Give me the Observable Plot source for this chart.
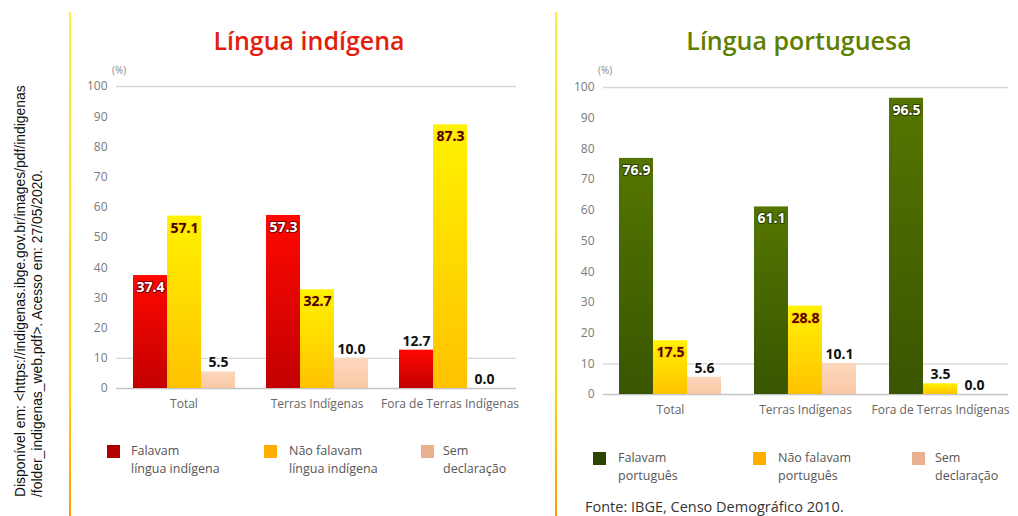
<!DOCTYPE html>
<html><head><meta charset="utf-8">
<script src="https://cdn.jsdelivr.net/npm/d3@7"></script>
<script src="https://cdn.jsdelivr.net/npm/@observablehq/plot@0.6"></script>
<style>
body{margin:0;background:#fff;}
#wrap{position:relative;width:1018px;height:516px;overflow:hidden;background:#fff;font-family:"Open Sans",sans-serif;}
.abs{position:absolute;white-space:nowrap;}
</style></head><body><div id="wrap"></div>
<script>
// ---------- data ----------
const categories = ["Total", "Terras Indígenas", "Fora de Terras Indígenas"];
const seriesIndigena = ["Falavam língua indígena", "Não falavam língua indígena", "Sem declaração"];
const seriesPortugues = ["Falavam português", "Não falavam português", "Sem declaração"];
const falavamIndigena = [37.4, 57.3, 12.7];
const naoFalavamIndigena = [57.1, 32.7, 87.3];
const semDeclIndigena = [5.5, 10.0, 0.0];
const falavamPortugues = [76.9, 61.1, 96.5];
const naoFalavamPortugues = [17.5, 28.8, 3.5];
const semDeclPortugues = [5.6, 10.1, 0.0];
const yTicks = [0, 10, 20, 30, 40, 50, 60, 70, 80, 90, 100];
const gridValues = [10, 100];
const legendIndigena = [["Falavam", "língua indígena"], ["Não falavam", "língua indígena"], ["Sem", "declaração"]];
const legendPortugues = [["Falavam", "português"], ["Não falavam", "português"], ["Sem", "declaração"]];
const titleIndigena = "Língua indígena";
const titlePortugues = "Língua portuguesa";
const sourceLines = ["Disponível em: <https://indigenas.ibge.gov.br/images/pdf/indigenas", "/folder_indigenas_web.pdf>. Acesso em: 27/05/2020."];
const fonteText = "Fonte: IBGE, Censo Demográfico 2010.";

// ---------- gradients ----------
const gradients = {
  gRed: ["#ff0800", "#c20000"],
  gYellow: ["#fff200", "#ffc200"],
  gPeach: ["#fdd8bd", "#f9c8a5"],
  gGreen: ["#557500", "#395500"]
};
const wrap = document.getElementById("wrap");
const defsSvg = d3.select(wrap).append("svg").attr("width", 0).attr("height", 0).style("position", "absolute");
const defs = defsSvg.append("defs");
for (const [id, [c0, c1]] of Object.entries(gradients)) {
  const g = defs.append("linearGradient").attr("id", id).attr("x1", 0).attr("y1", 0).attr("x2", 0).attr("y2", 1);
  g.append("stop").attr("offset", "0%").attr("stop-color", c0);
  g.append("stop").attr("offset", "100%").attr("stop-color", c1);
}

function makeRows(series, arrays) {
  return categories.flatMap((c, i) => series.map((s, j) => ({category: c, series: s, k: j, value: arrays[j][i]})));
}
const fmt = d3.format(".1f");
const baseStyle = {fontFamily: "'Open Sans', sans-serif", fontSize: "12px", color: "#7a7a7a", background: "transparent", overflow: "visible"};

// background layer: y axis + gridlines (not faceted, spans the full frame)
function backLayer({width, height, mt, mb, ml, mr}) {
  return Plot.plot({
    width, height, marginTop: mt, marginBottom: mb, marginLeft: ml, marginRight: mr,
    style: baseStyle,
    x: {domain: [0, 1], axis: null},
    y: {domain: [0, 100], ticks: yTicks, tickSize: 0, tickPadding: 9, label: null},
    marks: [
      Plot.ruleY(gridValues, {stroke: "#d6d6d6", strokeWidth: 1.3}),
      Plot.ruleY([0], {stroke: "#c4c4c4", strokeWidth: 1.3})
    ]
  });
}

function chart({rows, series, width, height, mt, mb, ml, mr, fills, in0, in1}) {
  const inside0 = rows.filter(d => d.k === 0 && d.value >= 15);
  const inside1 = rows.filter(d => d.k === 1 && d.value >= 15);
  const above = rows.filter(d => !((d.k === 0 || d.k === 1) && d.value >= 15));
  const textOpts = {fx: "category", x: "series", y: "value", text: d => fmt(d.value),
    fontFamily: "'Noto Sans', sans-serif", fontWeight: "bold", fontSize: 14, paintOrder: "stroke", strokeWidth: 2};
  return Plot.plot({
    width, height, marginTop: mt, marginBottom: mb, marginLeft: ml, marginRight: mr,
    style: {...baseStyle, color: "#666"},
    fx: {domain: categories, axis: "bottom", label: null, tickSize: 0, tickPadding: 11, paddingInner: 0.227, paddingOuter: 0.1135},
    x: {domain: series, axis: null, padding: 0},
    y: {domain: [0, 100], axis: null},
    color: {type: "ordinal", domain: series, range: fills},
    marks: [
      Plot.barY(rows, {fx: "category", x: "series", y: "value", fill: "series"}),
      Plot.text(inside0, {...textOpts, dy: 12, fill: in0[0], stroke: in0[1]}),
      Plot.text(inside1, {...textOpts, dy: 12, fill: in1[0], stroke: in1[1]}),
      Plot.text(above, {...textOpts, dy: -9, fill: "#111", stroke: "#fff"})
    ]
  });
}

function place(el, left, top) {
  el.style.position = "absolute"; el.style.left = left + "px"; el.style.top = top + "px";
  wrap.appendChild(el);
}
function addText(txt, left, top, css) {
  const d = document.createElement("div");
  d.className = "abs"; d.textContent = txt;
  Object.assign(d.style, {left: left + "px", top: top + "px"}, css);
  wrap.appendChild(d);
  return d;
}

// vertical yellow lines
for (const x of [69, 555]) {
  const v = document.createElement("div");
  Object.assign(v.style, {position: "absolute", left: x + "px", top: "12px", width: "2px", height: "504px",
    background: "linear-gradient(#ffee40, #ffd400 75%, #ff9a00)"});
  wrap.appendChild(v);
}

// left chart
const dimL = {width: 480, height: 360, mt: 26, mb: 32, ml: 56, mr: 24};
place(backLayer(dimL), 60, 60);
place(chart({...dimL, rows: makeRows(seriesIndigena, [falavamIndigena, naoFalavamIndigena, semDeclIndigena]),
  series: seriesIndigena,
  fills: ["url(#gRed)", "url(#gYellow)", "url(#gPeach)"], in0: ["#fff", "#7a0000"], in1: ["#4a0000", "#ffe100"]}), 60, 60);

// right chart
const dimR = {width: 473, height: 366, mt: 27, mb: 32, ml: 58, mr: 10};
place(backLayer(dimR), 545, 60);
place(chart({...dimR, rows: makeRows(seriesPortugues, [falavamPortugues, naoFalavamPortugues, semDeclPortugues]),
  series: seriesPortugues,
  fills: ["url(#gGreen)", "url(#gYellow)", "url(#gPeach)"], in0: ["#fff", "#2a3f00"], in1: ["#5a0000", "#ffd000"]}), 545, 60);

// titles
const tcss = {fontFamily: "'Open Sans', sans-serif", fontWeight: "600", fontSize: "25px", lineHeight: "30px", transform: "translateX(-50%)"};
addText(titleIndigena, 309, 25, {...tcss, color: "#e31e0c"});
addText(titlePortugues, 799, 25, {...tcss, color: "#5f7f00"});

// (%) labels
const pcss = {fontSize: "10px", color: "#8a8a8a", lineHeight: "12px"};
addText("(%)", 112, 64, pcss);
addText("(%)", 598, 64, pcss);

// legends
const swIndigena = ["#b00000", "#ffae00", "#e9b190"];
const swPortugues = ["#2b4500", "#ffae00", "#e9b190"];
function legend(labels, colors, sx, tx, top) {
  labels.forEach((lines, i) => {
    const s = document.createElement("div");
    Object.assign(s.style, {position: "absolute", left: sx[i] + "px", top: top + "px", width: "13px", height: "13px", background: colors[i]});
    wrap.appendChild(s);
    const t = addText("", tx[i], top - 3, {fontSize: "12.5px", lineHeight: "18px", color: "#555", whiteSpace: "pre"});
    t.textContent = lines.join("\n");
  });
}
legend(legendIndigena, swIndigena, [107, 264, 421], [131, 289, 443], 445);
legend(legendPortugues, swPortugues, [593, 753, 912], [618, 778, 935], 452);

// fonte
addText(fonteText, 585, 497, {fontSize: "14.5px", lineHeight: "20px", color: "#333"});

// rotated source
const src = document.createElement("div");
src.innerHTML = sourceLines.map(l => l.replace(/</g, "&lt;").replace(/>/g, "&gt;")).join("<br>");
Object.assign(src.style, {position: "absolute", left: "12px", top: "497px", transformOrigin: "0 0", transform: "rotate(-90deg)",
  fontFamily: "'Liberation Sans', Arial, sans-serif", fontSize: "13.9px", lineHeight: "17px", color: "#111", whiteSpace: "nowrap"});
wrap.appendChild(src);
</script></body></html>
